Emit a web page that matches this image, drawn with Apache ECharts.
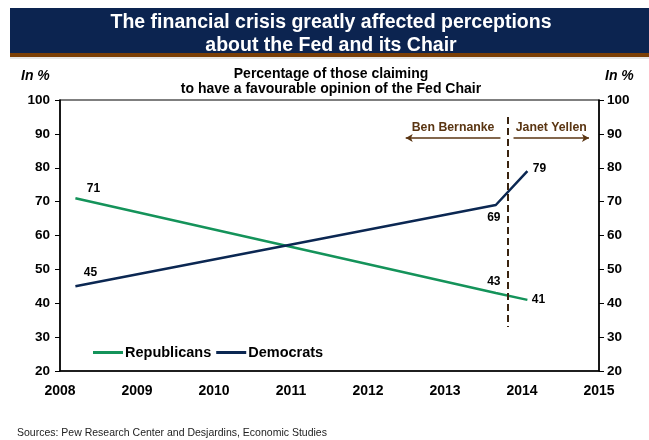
<!DOCTYPE html>
<html>
<head>
<meta charset="utf-8">
<script src="https://cdn.jsdelivr.net/npm/echarts@6/dist/echarts.min.js"></script>
<style>
  html, body { margin: 0; padding: 0; background: #ffffff; }
  #chart { width: 649px; height: 440px; }
</style>
</head>
<body>
<div id="chart"></div>
<script>
// Survey dates (fractional years) and favourable-opinion shares, in %
const surveyYears = [2008.2, 2013.66, 2014.07];
const republicans = [71, 43, 41];
const democrats = [45, 69, 79];
const seriesNames = ['Republicans', 'Democrats'];
const yTicks = [20, 30, 40, 50, 60, 70, 80, 90, 100];
const xTicks = [2008, 2009, 2010, 2011, 2012, 2013, 2014, 2015];
// Change of Fed Chair and the span of the two annotation arrows
const chairChange = 2013.81;
const bernankeArrow = [2013.72, 2012.49];
const yellenArrow = [2013.89, 2014.87];
const arrowLevel = 88.8;
const dividerRange = [95, 33];

// Label offsets (pixels) for each point, placed beside the line
const repOffsets = [[18, -10], [-2, -11], [11, 0]];
const demOffsets = [[15, -14], [-2, 13], [12, -2]];

const FONT = '"Liberation Sans", Arial, sans-serif';
const GREEN = '#14935a';
const NAVY = '#0b2752';
const BROWN = '#5a3512';

function pointsWithLabels(values, offsets) {
  return values.map((v, i) => ({
    value: [surveyYears[i], v],
    label: { show: true, position: 'inside', offset: offsets[i] }
  }));
}

const chart = echarts.init(document.getElementById('chart'), null, { renderer: 'canvas' });

chart.setOption({
  animation: false,
  backgroundColor: '#ffffff',
  graphic: [
    { type: 'rect', shape: { x: 10, y: 8, width: 639, height: 46 }, style: { fill: '#0c2450' }, z: 0 },
    { type: 'rect', shape: { x: 10, y: 53, width: 639, height: 4 }, style: { fill: '#7b3f06' }, z: 0 },
    { type: 'rect', shape: { x: 10, y: 57, width: 639, height: 2 }, style: { fill: '#e6e6e6' }, z: 0 },
    { type: 'text', left: 21, top: 69, style: { text: 'In %', font: 'italic bold 14px ' + FONT, fill: '#000' } },
    { type: 'text', left: 605, top: 69, style: { text: 'In %', font: 'italic bold 14px ' + FONT, fill: '#000' } },
    { type: 'text', left: 17, top: 428, style: { text: 'Sources: Pew Research Center and Desjardins, Economic Studies', font: '10.5px ' + FONT, fill: '#222' } }
  ],
  title: [
    {
      text: 'The financial crisis greatly affected perceptions\nabout the Fed and its Chair',
      left: 331, top: 11, textAlign: 'center', padding: 0,
      textStyle: { color: '#ffffff', fontFamily: FONT, fontWeight: 'bold', fontSize: 19.5, lineHeight: 23 }
    },
    {
      text: 'Percentage of those claiming\nto have a favourable opinion of the Fed Chair',
      left: 331, top: 67, textAlign: 'center', padding: 0,
      textStyle: { color: '#000000', fontFamily: FONT, fontWeight: 'bold', fontSize: 14, lineHeight: 15 }
    }
  ],
  legend: {
    data: seriesNames,
    left: 93, top: 345, padding: 0,
    itemWidth: 30, itemHeight: 3, itemGap: 5,
    icon: 'rect',
    textStyle: { fontFamily: FONT, fontWeight: 'bold', fontSize: 14.5, color: '#000', padding: [0, 0, 0, -3] }
  },
  grid: {
    left: 60, right: 50, top: 100, bottom: 69,
    show: true, borderColor: '#000', borderWidth: 1.2, backgroundColor: 'transparent'
  },
  xAxis: {
    type: 'value', min: xTicks[0], max: xTicks[xTicks.length - 1], interval: 1,
    axisLine: { show: true, lineStyle: { color: '#000', width: 1.5 } },
    axisTick: { show: false },
    splitLine: { show: false },
    axisLabel: {
      margin: 13, color: '#000', fontFamily: FONT, fontWeight: 'bold', fontSize: 14,
      formatter: v => String(v)
    }
  },
  yAxis: [
    {
      type: 'value', min: yTicks[0], max: yTicks[yTicks.length - 1], interval: 10, position: 'left',
      axisLine: { show: true, lineStyle: { color: '#000', width: 1.5 } },
      axisTick: { show: true, inside: false, length: 5, lineStyle: { color: '#000' } },
      splitLine: { show: false },
      axisLabel: { margin: 10, color: '#000', fontFamily: FONT, fontWeight: 'bold', fontSize: 13.5 }
    },
    {
      type: 'value', min: yTicks[0], max: yTicks[yTicks.length - 1], interval: 10, position: 'right',
      axisLine: { show: true, lineStyle: { color: '#000', width: 1.5 } },
      axisTick: { show: true, inside: false, length: 5, lineStyle: { color: '#000' } },
      splitLine: { show: false },
      axisLabel: { margin: 8, color: '#000', fontFamily: FONT, fontWeight: 'bold', fontSize: 13.5 }
    }
  ],
  series: [
    {
      name: seriesNames[0], type: 'line',
      data: pointsWithLabels(republicans, repOffsets),
      symbol: 'circle', symbolSize: 0, showSymbol: true,
      lineStyle: { color: GREEN, width: 2.5 }, itemStyle: { color: GREEN },
      label: { color: '#000', fontFamily: FONT, fontWeight: 'bold', fontSize: 12 },
      z: 3
    },
    {
      name: seriesNames[1], type: 'line',
      data: pointsWithLabels(democrats, demOffsets),
      symbol: 'circle', symbolSize: 0, showSymbol: true,
      lineStyle: { color: NAVY, width: 2.5 }, itemStyle: { color: NAVY },
      label: { color: '#000', fontFamily: FONT, fontWeight: 'bold', fontSize: 12 },
      z: 3,
      markLine: {
        silent: true,
        animation: false,
        data: [
          [
            { coord: [chairChange, dividerRange[0]], symbol: 'none',
              lineStyle: { color: '#3a2410', width: 2, type: [7, 4] }, label: { show: false } },
            { coord: [chairChange, dividerRange[1]], symbol: 'none' }
          ],
          [
            { coord: [bernankeArrow[0], arrowLevel], symbol: 'none',
              lineStyle: { color: BROWN, width: 1.5, type: 'solid' },
              label: { show: true, position: 'middle', formatter: 'Ben Bernanke', distance: 4,
                       color: BROWN, fontFamily: FONT, fontWeight: 'bold', fontSize: 12.3 } },
            { coord: [bernankeArrow[1], arrowLevel], symbol: 'arrow', symbolSize: [6, 7] }
          ],
          [
            { coord: [yellenArrow[0], arrowLevel], symbol: 'none',
              lineStyle: { color: BROWN, width: 1.5, type: 'solid' },
              label: { show: true, position: 'middle', formatter: 'Janet Yellen', distance: 4,
                       color: BROWN, fontFamily: FONT, fontWeight: 'bold', fontSize: 12.3 } },
            { coord: [yellenArrow[1], arrowLevel], symbol: 'arrow', symbolSize: [6, 7] }
          ]
        ]
      }
    }
  ]
});
</script>
</body>
</html>
